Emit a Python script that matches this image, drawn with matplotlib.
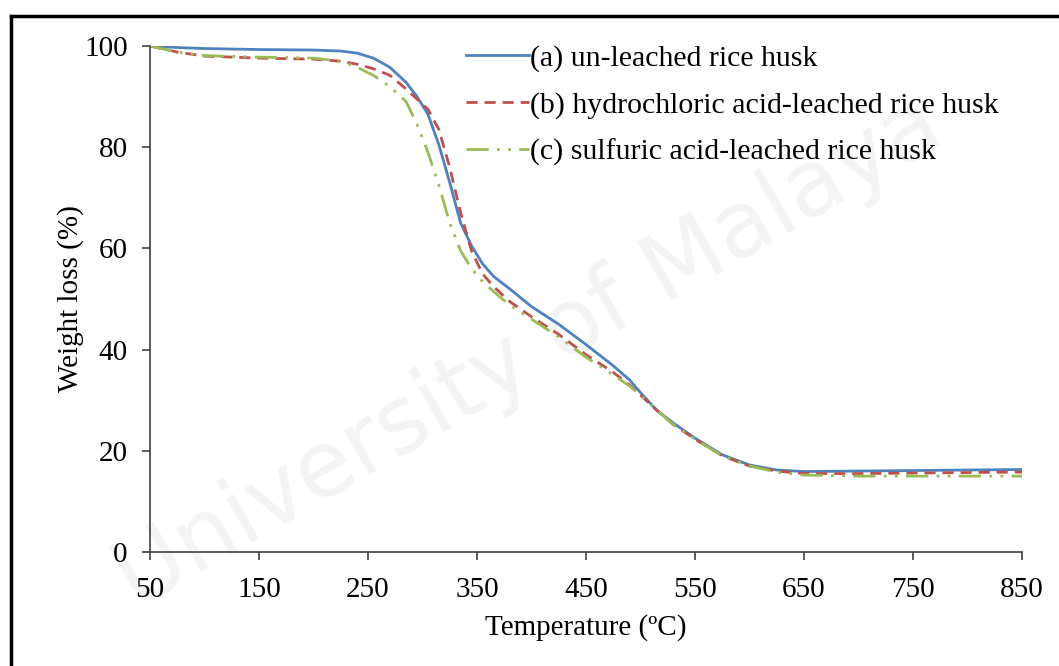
import matplotlib.pyplot as plt
from matplotlib.lines import Line2D

plt.rcParams['font.family'] = ['Liberation Serif', 'DejaVu Serif']
plt.rcParams['font.size'] = 21

temp = [50, 75, 100, 150, 200, 225, 240, 255, 270, 285, 295, 305, 315, 325,
        335, 345, 355, 365, 380, 400, 425, 450, 475, 490, 500, 515, 530, 550,
        575, 600, 625, 650, 700, 750, 800, 850]

unleached = [100, 99.7, 99.5, 99.3, 99.2, 99.0, 98.6, 97.6, 95.8, 92.8, 90.0,
             86.5, 80.5, 73.0, 65.0, 60.5, 57.0, 54.5, 52.0, 48.5, 45.0, 41.0,
             36.8, 34.0, 31.5, 28.0, 25.5, 22.5, 19.2, 17.2, 16.2, 15.9, 16.0,
             16.1, 16.2, 16.3]

hcl_leached = [100, 98.8, 98.0, 97.6, 97.4, 97.0, 96.4, 95.5, 94.2, 91.5,
               89.5, 87.5, 83.5, 76.0, 67.0, 59.5, 55.0, 52.5, 49.5, 46.5,
               43.0, 39.0, 35.5, 33.0, 31.0, 28.0, 25.2, 22.3, 19.0, 17.0,
               16.0, 15.5, 15.5, 15.6, 15.7, 15.8]

h2so4_leached = [100, 98.8, 98.1, 97.8, 97.6, 97.0, 95.8, 94.2, 92.0, 89.0,
                 84.5, 79.0, 72.5, 65.0, 59.5, 56.0, 53.5, 51.5, 48.8, 46.0,
                 42.5, 38.5, 35.0, 32.8, 31.0, 28.0, 25.2, 22.3, 19.0, 17.0,
                 15.8, 15.2, 15.0, 15.0, 15.0, 15.0]

labels = ['(a) un-leached rice husk',
          '(b) hydrochloric acid-leached rice husk',
          '(c) sulfuric acid-leached rice husk']

fig = plt.figure(figsize=(10.59, 6.66), dpi=100)
ax = fig.add_axes([150 / 1059, 1 - 552 / 666, 872 / 1059, 506 / 666])

# faint watermark behind everything
fig.text(0.5, 0.47, 'University of Malaya', fontsize=66, color='#f4f4f4',
         rotation=30, ha='center', va='center', family='DejaVu Sans',
         zorder=-1)

ax.plot(temp, unleached, color='#4F81BD', lw=2.0, label=labels[0])
ax.plot(temp, hcl_leached, color='#C0504D', lw=2.0,
        linestyle=(0, (4, 2.5)), label=labels[1])
ax.plot(temp, h2so4_leached, color='#9BBB59', lw=2.0,
        linestyle=(0, (8, 3, 1, 3, 1, 3)), label=labels[2])

ax.set_xlim(50, 850)
ax.set_ylim(0, 100)
ax.set_xticks(range(50, 851, 100))
ax.set_yticks(range(0, 101, 20))
ax.patch.set_alpha(0)
for s in ['top', 'right']:
    ax.spines[s].set_visible(False)
for s in ['left', 'bottom']:
    ax.spines[s].set_color('#404040')
    ax.spines[s].set_linewidth(1.2)
ax.tick_params(direction='out', length=6, width=1.2, color='#404040',
               labelsize=21)
ax.tick_params(axis='x', pad=12)
ax.tick_params(axis='y', pad=10)
ax.set_xlabel('Temperature (ºC)', fontsize=21, labelpad=8)
ax.set_ylabel('Weight loss (%)', fontsize=21, labelpad=0)

ax.legend(loc='upper left', bbox_to_anchor=(466 / 1059, 1 - 45 / 666),
          bbox_transform=fig.transFigure, frameon=False, borderpad=0,
          borderaxespad=0, handlelength=2.1, handletextpad=0.05,
          labelspacing=0.65, prop={'size': 21.5})

# outer frame (left and top edges)
fig.add_artist(Line2D([11 / 1059, 11 / 1059], [0, 1 - 16 / 666],
                      transform=fig.transFigure, color='black', lw=2.5))
fig.add_artist(Line2D([11 / 1059, 1], [1 - 16 / 666, 1 - 16 / 666],
                      transform=fig.transFigure, color='black', lw=2.5))

fig.savefig('out.png', dpi=100)
